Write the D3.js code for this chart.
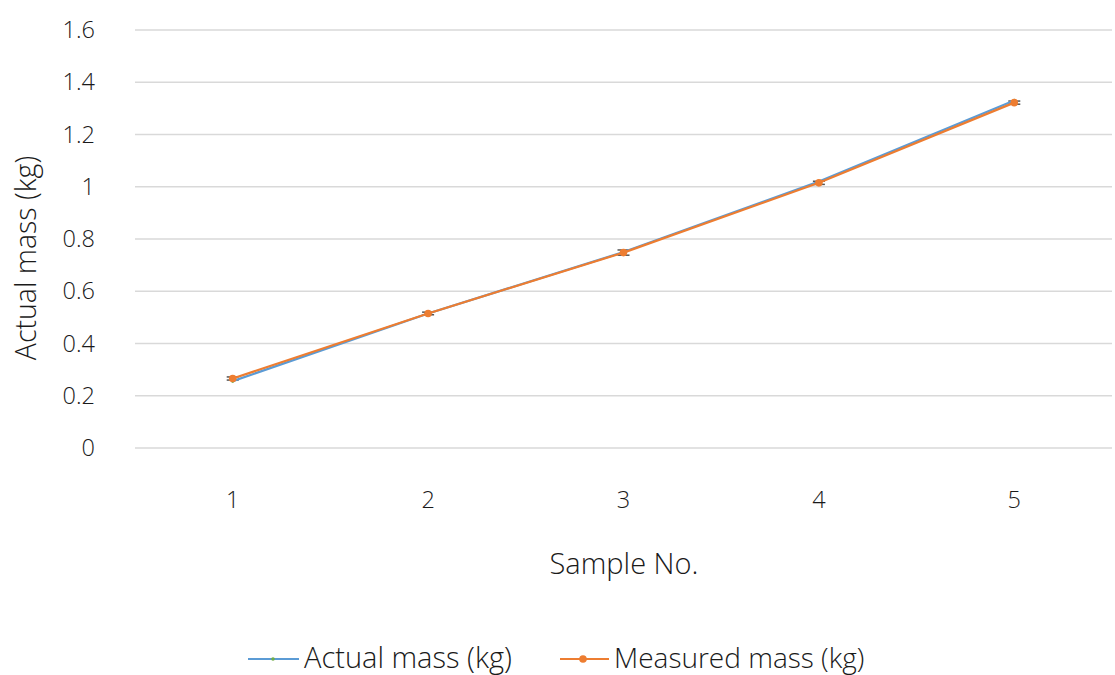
<!DOCTYPE html>
<html><head><meta charset="utf-8">
<script src="https://cdn.jsdelivr.net/npm/d3@7"></script>
<style>body{margin:0;background:#fff;} text{font-family:"Open Sans","Noto Sans",sans-serif;font-weight:300;fill:#1a1a1a;}</style>
</head><body>
<svg id="c" width="1115" height="675"></svg>
<script>
const categories = ["1","2","3","4","5"];
const actualMass = [0.256, 0.515, 0.750, 1.020, 1.330];
const measuredMass = [0.266, 0.515, 0.748, 1.015, 1.322];
const measuredErr = [0.006, 0.005, 0.010, 0.006, 0.006];
const yTicks = [0, 0.2, 0.4, 0.6, 0.8, 1, 1.2, 1.4, 1.6];
const seriesNames = ["Actual mass (kg)", "Measured mass (kg)"];

(function(){
const svg = d3.select("#c");
const pL = 135, pR = 1112, pT = 30, pB = 448;
const x = d3.scaleBand().domain(categories).range([pL, pR]);
const y = d3.scaleLinear().domain([0, 1.6]).range([pB, pT]);

const g = svg.append("g");
g.selectAll(".grid").data(yTicks).join("line")
  .attr("x1", pL).attr("x2", pR)
  .attr("y1", d => y(d)).attr("y2", d => y(d))
  .attr("stroke", "#d9d9d9").attr("stroke-width", 1.3);
g.selectAll(".yl").data(yTicks).join("text")
  .attr("x", 95).attr("y", d => y(d)).attr("dy", "0.35em")
  .attr("text-anchor", "end").attr("font-size", 23.5)
  .text(d => d3.format("")(d));
g.selectAll(".xl").data(categories).join("text")
  .attr("x", d => x(d) + x.bandwidth()/2).attr("y", 500).attr("dy", "0.35em")
  .attr("text-anchor", "middle").attr("font-size", 23.5).text(d => d);
svg.append("text").attr("x", 624).attr("y", 564).attr("dy", "0.35em")
  .attr("text-anchor", "middle").attr("font-size", 29).text("Sample No.");
svg.append("text").attr("transform", "translate(26,258) rotate(-90)").attr("dy", "0.35em")
  .attr("text-anchor", "middle").attr("font-size", 28.5).text("Actual mass (kg)");

const cx = d => x(d) + x.bandwidth()/2;
const line = d3.line().x((d,i) => cx(categories[i])).y(d => y(d));

const eb = g.selectAll(".eb").data(measuredMass).join("g");
eb.append("line").attr("x1", (d,i)=>cx(categories[i])).attr("x2",(d,i)=>cx(categories[i]))
  .attr("y1",(d,i)=>y(d+measuredErr[i])).attr("y2",(d,i)=>y(d-measuredErr[i]))
  .attr("stroke","#555").attr("stroke-width",1.5);
[1,-1].forEach(s=>{
  eb.append("line").attr("x1",(d,i)=>cx(categories[i])-6).attr("x2",(d,i)=>cx(categories[i])+6)
    .attr("y1",(d,i)=>y(d+s*measuredErr[i])).attr("y2",(d,i)=>y(d+s*measuredErr[i]))
    .attr("stroke","#555").attr("stroke-width",1.5);
});

g.append("path").datum(actualMass).attr("d", line).attr("fill","none")
  .attr("stroke","#5b9bd5").attr("stroke-width",2.2);
g.append("path").datum(measuredMass).attr("d", line).attr("fill","none")
  .attr("stroke","#ed7d31").attr("stroke-width",2.2);
g.selectAll(".pa").data(actualMass).join("circle")
  .attr("cx",(d,i)=>cx(categories[i])).attr("cy",d=>y(d)).attr("r",1.8).attr("fill","#70ad47");
g.selectAll(".pm").data(measuredMass).join("circle")
  .attr("cx",(d,i)=>cx(categories[i])).attr("cy",d=>y(d)).attr("r",3.8).attr("fill","#ed7d31");

const leg = svg.append("g");
leg.append("line").attr("x1",248).attr("x2",299).attr("y1",659).attr("y2",659).attr("stroke","#5b9bd5").attr("stroke-width",2.2);
leg.append("circle").attr("cx",273).attr("cy",659).attr("r",1.8).attr("fill","#70ad47");
leg.append("text").attr("x",304).attr("y",658).attr("dy","0.35em").attr("font-size",29).text(seriesNames[0]);
leg.append("line").attr("x1",560).attr("x2",609).attr("y1",659).attr("y2",659).attr("stroke","#ed7d31").attr("stroke-width",2.2);
leg.append("circle").attr("cx",583).attr("cy",659).attr("r",3.8).attr("fill","#ed7d31");
leg.append("text").attr("x",614).attr("y",658).attr("dy","0.35em").attr("font-size",28).text(seriesNames[1]);
})();
</script>
</body></html>
